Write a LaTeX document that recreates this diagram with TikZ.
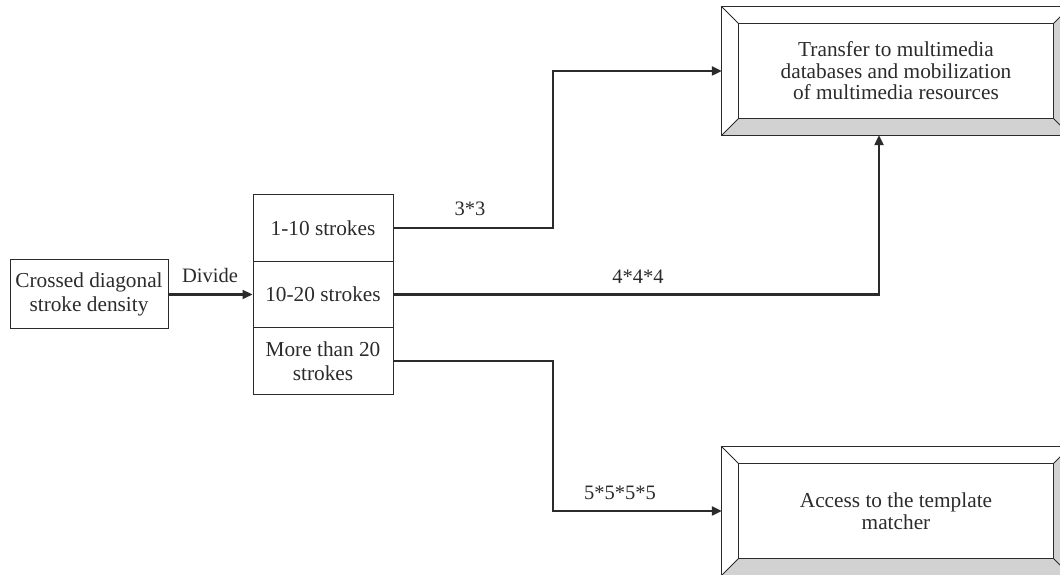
\documentclass[tikz,border=0pt]{standalone}
\usepackage{fontspec}
\setmainfont{Liberation Serif}
\usetikzlibrary{arrows.meta,calc}

\definecolor{edge}{HTML}{2B2B2B}
\definecolor{bevelgray}{HTML}{D2D2D2}

\tikzset{
  txt/.style={font=\fontsize{21.3}{24.5}\selectfont, text=edge, align=center, inner sep=0pt},
  plainbox/.style={txt, draw=edge, line width=1pt},
  stackbox/.style={plainbox, minimum width=140pt, minimum height=66.5pt},
  bevelbox/.style={txt, font=\fontsize{21.3}{21.5}\selectfont, minimum width=348pt, minimum height=128pt},
  conn/.style={draw=edge, line width=2.2pt, -{Triangle[length=10pt,width=9pt]}},
  lab/.style={font=\fontsize{20.5}{22}\selectfont, text=edge, inner sep=0pt}
}

% framed box with a bevelled border: light top/left faces, grey right/bottom faces
\newcommand{\bevelframe}[2]{%
  \fill[bevelgray] (#1.north east) -- (#1.south east)
      -- ($(#1.south east)+(-#2,#2)$) -- ($(#1.north east)+(-#2,-#2)$) -- cycle;
  \fill[bevelgray] (#1.south west) -- (#1.south east)
      -- ($(#1.south east)+(-#2,#2)$) -- ($(#1.south west)+(#2,#2)$) -- cycle;
  \draw[edge, line width=1pt] (#1.north west) rectangle (#1.south east);
  \draw[edge, line width=1pt] ($(#1.north west)+(#2,-#2)$) rectangle ($(#1.south east)+(-#2,#2)$);
  \draw[edge, line width=1pt] (#1.north west) -- ++(#2,-#2);
  \draw[edge, line width=1pt] (#1.north east) -- ++(-#2,-#2);
  \draw[edge, line width=1pt] (#1.south west) -- ++(#2,#2);
  \draw[edge, line width=1pt] (#1.south east) -- ++(-#2,#2);
}

\begin{document}
\begin{tikzpicture}[x=1pt, y=1pt]
  \clip (0,0) rectangle (1060,575);
  \useasboundingbox (0,0) rectangle (1060,575);

  % source box
  \node[plainbox, minimum width=158pt, minimum height=69pt] (src) at (89,280.5)
    {Crossed diagonal\\stroke density};

  % stroke-count classes
  \node[stackbox] (c1) at (323,347) {1-10 strokes};
  \node[stackbox] (c2) at (323,280.5) {10-20 strokes};
  \node[stackbox] (c3) at (323,214) {More than 20\\strokes};

  % targets
  \node[bevelbox] (db) at (896,504) {Transfer to multimedia\\databases and mobilization\\of multimedia resources};
  \node[bevelbox] (tm) at (896,64) {Access to the template\\matcher};
  \bevelframe{db}{17}
  \bevelframe{tm}{17}

  % connectors
  \draw[conn] (src.east) -- (c2.west);
  \node[lab] (ldiv) at (210,300) {Divide};

  \draw[conn] (c1.east) -- (553,347) |- (db.west);
  \node[lab] (l1) at (470,366) {3*3};

  \draw[conn] (c2.east) -| (db.south -| 879,0);
  \node[lab] (l2) at (638,298) {4*4*4};

  \draw[conn] (c3.east) -- (553,214) |- (tm.west);
  \node[lab] (l3) at (620,82) {5*5*5*5};
\end{tikzpicture}
\end{document}
